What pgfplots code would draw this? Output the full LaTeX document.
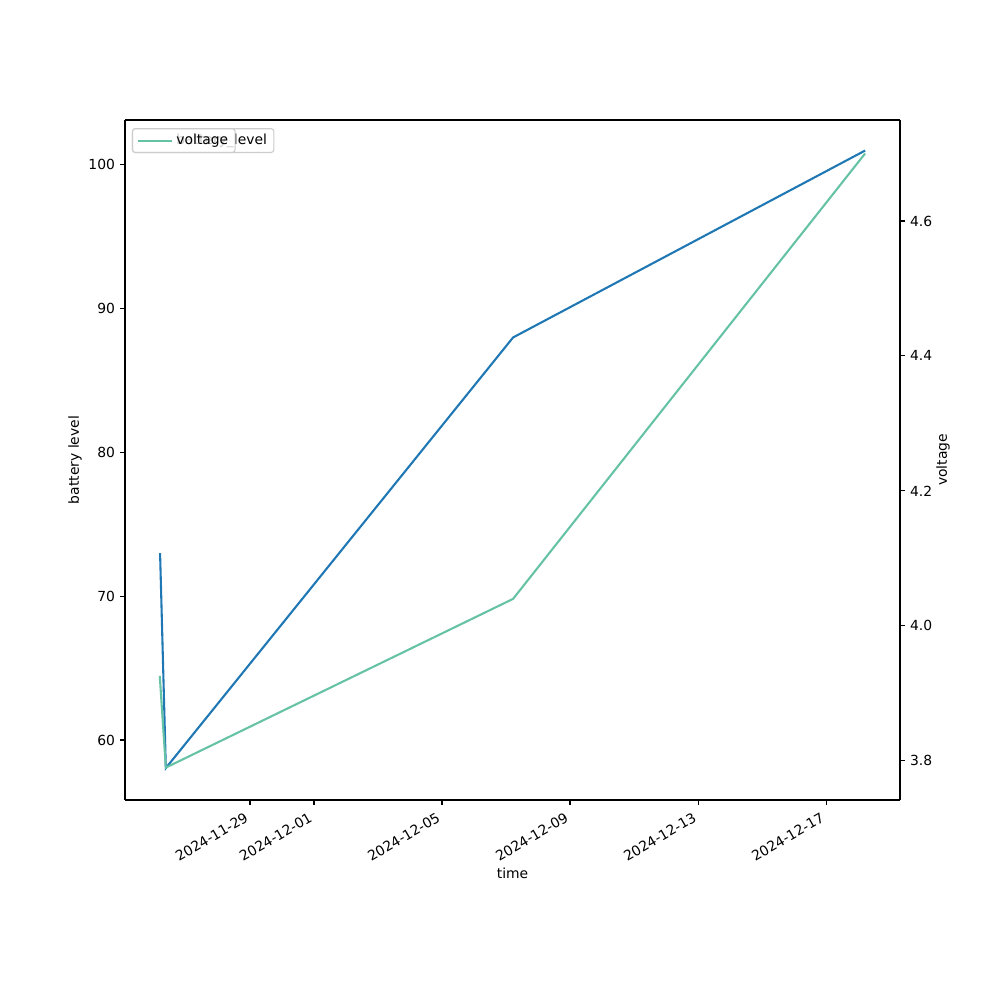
\documentclass[border=0pt]{standalone}
\usepackage{pgfplots}
\pgfplotsset{compat=1.18}
\usepackage{fontspec}
\setmainfont{DejaVu Sans}
\definecolor{battc}{HTML}{1F77B4}
\definecolor{voltc}{HTML}{66C2A5}
\begin{document}
\begin{tikzpicture}
\useasboundingbox (0,0) rectangle (720pt,720pt);
\pgfplotsset{
  common/.style={
    at={(90pt,144pt)}, anchor=south west,
    scale only axis, width=558pt, height=489.6pt,
    xmin=-3.906, xmax=20.31,
    tick align=outside, major tick length=3.5pt,
    every axis/.append style={line width=0.8pt},
    tick style={line width=0.8pt, black},
    /pgf/number format/assume math mode=true,
    tick label style={font=\fontsize{10}{12}\selectfont},
    label style={font=\fontsize{10}{12}\selectfont},
    legend style={font=\fontsize{10}{12}\selectfont, at={(0.009,0.988)}, anchor=north west,
      draw=black!20, rounded corners=2pt, inner xsep=3pt, inner ysep=2pt},
    legend image code/.code={\path (0pt,0pt) -- (25pt,0pt);\draw[#1] (0pt,0pt) -- (20pt,0pt);},
  }
}
\begin{axis}[common,
  ymin=55.83, ymax=103.125,
  ytick={60,70,80,90,100},
  axis y line*=left, axis x line*=bottom,
  xtick={0,2,6,10,14,18},
  xticklabels={2024-11-29,2024-12-01,2024-12-05,2024-12-09,2024-12-13,2024-12-17},
  xticklabel style={rotate=30, anchor=north east, inner sep=2pt, xshift=-4pt},
  xlabel={time}, ylabel={battery level},
  xlabel style={at={(0.5,-0.1074)}, anchor=center},
  ylabel style={at={(-0.0645,0.5)}, anchor=center},
  legend cell align=left,
]
\addplot[battc, line width=1.5pt] coordinates {(-2.81,73) (-2.63,58.05) (8.22,88) (19.22,101)};
\addlegendentry{battery\_level}
\end{axis}
\draw[line width=0.8pt] (90pt,633.6pt) -- (648pt,633.6pt);
\begin{axis}[common,
  ymin=3.742, ymax=4.7496,
  ytick={3.8,4.0,4.2,4.4,4.6},
  yticklabel style={/pgf/number format/.cd, fixed, fixed zerofill, precision=1},
  axis y line*=right, axis x line=none,
  ylabel={voltage},
  ylabel style={at={(1.0555,0.5)}, anchor=center, rotate=0},
  legend style={fill=white, fill opacity=0.8, text opacity=1},
  legend cell align=left,
]
\addplot[voltc, line width=1.5pt] coordinates {(-2.82,3.926) (-2.63,3.79) (8.22,4.04) (19.22,4.70)};
\addlegendentry{voltage}
\end{axis}
\end{tikzpicture}
\end{document}
